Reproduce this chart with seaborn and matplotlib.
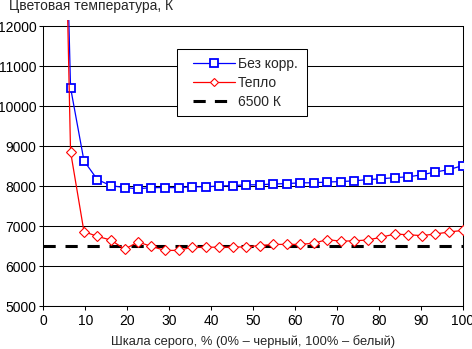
import matplotlib
matplotlib.use("Agg")
import matplotlib.pyplot as plt
import seaborn as sns
import pandas as pd
from matplotlib.patches import Rectangle
from matplotlib.lines import Line2D

sns.set_style("white")
plt.rcParams['font.family'] = ['Liberation Sans', 'DejaVu Sans']
plt.rcParams['font.size'] = 10

# grey levels, %
gray = [3.2, 6.5, 9.7, 12.9, 16.1, 19.4, 22.6, 25.8, 29.0, 32.3, 35.5, 38.7,
        41.9, 45.2, 48.4, 51.6, 54.8, 58.1, 61.3, 64.5, 67.7, 71.0, 74.2,
        77.4, 80.6, 83.9, 87.1, 90.3, 93.5, 96.8, 100.0]
# colour temperature, K (first point is off-scale)
no_corr = [24000, 10460, 8630, 8160, 8010, 7960, 7930, 7960, 7960, 7960, 7980,
           7980, 8000, 8010, 8030, 8030, 8050, 8060, 8080, 8080, 8100, 8110,
           8130, 8160, 8180, 8210, 8230, 8280, 8350, 8410, 8510]
warm = [25000, 8860, 6860, 6740, 6650, 6420, 6600, 6490, 6390, 6390, 6470,
        6470, 6470, 6470, 6480, 6510, 6540, 6540, 6540, 6570, 6660, 6620,
        6630, 6650, 6720, 6800, 6780, 6760, 6800, 6850, 6890]
ref_x = [0, 100]
ref_y = [6500, 6500]

labels = ["Без корр.", "Тепло", "6500 К"]
y_ticks = [5000, 6000, 7000, 8000, 9000, 10000, 11000, 12000]
x_ticks = [0, 10, 20, 30, 40, 50, 60, 70, 80, 90, 100]

W, H = 472, 349
fig = plt.figure(figsize=(W / 100, H / 100), dpi=100)
L, R, T, B = 43.3, 462.5, 20.0, 306.0
ax = fig.add_axes([L / W, 1 - B / H, (R - L) / W, (B - T) / H])

df_ref = pd.DataFrame({"x": ref_x, "y": ref_y})
df_nc = pd.DataFrame({"x": gray, "y": no_corr})
df_w = pd.DataFrame({"x": gray, "y": warm})

sns.lineplot(data=df_ref, x="x", y="y", ax=ax, color="black", lw=2.2,
             dashes=False, zorder=2)
ax.lines[-1].set_dashes([4, 3.2])
ax.lines[-1].set_dash_capstyle("butt")

sns.lineplot(data=df_nc, x="x", y="y", ax=ax, color="#0000FF", lw=0.9,
             marker="s", markersize=5.2, markerfacecolor="white",
             markeredgecolor="#0000FF", markeredgewidth=1.3, zorder=3)
sns.lineplot(data=df_w, x="x", y="y", ax=ax, color="#FF0000", lw=0.9,
             marker="D", markersize=5.2, markerfacecolor="white",
             markeredgecolor="#FF0000", markeredgewidth=0.8, zorder=3)

ax.set_xlim(0, 100)
ax.set_ylim(5000, 12150)
ax.set_xticks(x_ticks)
ax.set_yticks(y_ticks)
ax.set_xticklabels([str(v) for v in x_ticks])
ax.set_yticklabels([str(v) for v in y_ticks])
ax.set_xlabel("")
ax.set_ylabel("")

ax.yaxis.grid(True, color="black", lw=0.75)
ax.xaxis.grid(False)
ax.set_axisbelow(True)

for s in ["left", "right", "bottom"]:
    ax.spines[s].set_visible(True)
    ax.spines[s].set_color("black")
    ax.spines[s].set_linewidth(0.75)
ax.spines["top"].set_visible(False)
ax.spines["left"].set_bounds(5000, 12000)
ax.spines["right"].set_bounds(5000, 12000)

ax.tick_params(axis="both", direction="out", length=3, width=0.75,
               color="black", labelsize=10, labelcolor="black", pad=2)
ax.tick_params(axis="x", bottom=True, pad=3)
ax.tick_params(axis="y", left=True)

fig.text(9 / W, 1 - 10 / H, "Цветовая температура, К", fontsize=10,
         ha="left", va="baseline")
fig.text((L + R) / 2 / W, 1 - 341.5 / H,
         "Шкала серого, % (0% – черный, 100% – белый)", fontsize=9.3,
         ha="center", va="center")

# legend
def fx(px):
    return (px - L) / (R - L)

def fy(py):
    return 1 - (py - T) / (B - T)

ax.add_patch(Rectangle((fx(177), fy(116)), fx(307) - fx(177), fy(49) - fy(116),
                       transform=ax.transAxes, facecolor="white",
                       edgecolor="black", lw=0.75, zorder=5, clip_on=False))
handles = [
    Line2D([], [], color="#0000FF", lw=0.9, marker="s", markersize=5.2,
           markerfacecolor="white", markeredgecolor="#0000FF", markeredgewidth=1.3),
    Line2D([], [], color="#FF0000", lw=0.9, marker="D", markersize=4.2,
           markerfacecolor="white", markeredgecolor="#FF0000", markeredgewidth=0.8),
    Line2D([], [], color="black", lw=2.2, dashes=[4, 3], dash_capstyle="butt"),
]
leg = ax.legend(handles, labels, loc="center left",
                bbox_to_anchor=(fx(193), fy(82.7)), frameon=False,
                borderpad=0, borderaxespad=0, handlelength=3.0,
                handletextpad=0.25, labelspacing=0.35, fontsize=10)
leg.set_zorder(6)

fig.savefig("out.png", dpi=100, facecolor="white")
